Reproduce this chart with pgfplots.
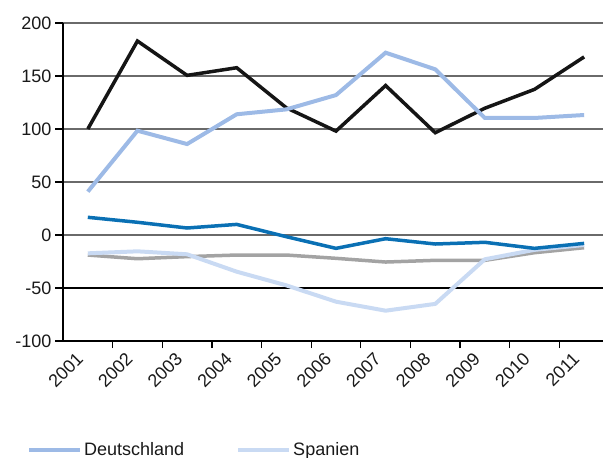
\documentclass[border=0pt]{standalone}
\usepackage{pgfplots}
\pgfplotsset{compat=1.18}
\usepackage{fontspec}
\setmainfont{Liberation Sans}
\definecolor{cblack}{HTML}{151515}
\definecolor{cmid}{HTML}{9DBAE6}
\definecolor{clight}{HTML}{C9DAF3}
\definecolor{cdark}{HTML}{0A70B4}
\definecolor{cgray}{HTML}{A3A3A3}
\definecolor{cgrid}{HTML}{6A6A6A}
\begin{document}
\begin{tikzpicture}
\path[use as bounding box] (-63pt,-117pt) rectangle (540pt,341pt);
\begin{scope}
\clip (-63pt,-117pt) rectangle (540pt,341pt);
\begin{axis}[
  at={(0pt,0pt)}, anchor=south west,
  scale only axis, width=540pt, height=318pt,
  xmin=-0.5, xmax=10.38, ymin=-100, ymax=200,
  axis x line*=bottom, axis y line*=left,
  axis line style={black, line width=1.3pt},
  xtick={0,...,10},
  xticklabels={2001,2002,2003,2004,2005,2006,2007,2008,2009,2010,2011},
  minor xtick={0.5,1.5,...,9.5},
  major x tick style={draw=none},
  minor x tick style={black, line width=1.3pt},
  minor tick length=7pt,
  ytick={-100,0,50,100,150,200},
  extra y ticks={-50},
  extra y tick style={major grid style={black, line width=1.2pt}},
  y tick style={black, line width=1.3pt},
  major tick length=8pt,
  tick align=outside,
  xtick pos=bottom, ytick pos=left,
  ymajorgrids,
  major grid style={cgrid, line width=1.5pt},
  tick label style={font=\fontsize{18}{21}\selectfont, text=black!90},
  xticklabel style={xshift=-5.5pt, yshift=-4.5pt, rotate=45, anchor=east},
  /pgf/number format/assume math mode=true,
  legend columns=2,
  legend style={at={(axis description cs:-0.0667,-0.342)}, anchor=west, draw=none, fill=none, inner sep=0pt,
    font=\fontsize{18}{21}\selectfont, text=black!90,
    /tikz/every even column/.append style={column sep=50pt}},
  legend image code/.code={\draw[#1] (0pt,0pt) -- (51pt,0pt);},
  clip=false,
]
\addlegendimage{cmid, line width=4pt}
\addlegendentry{Deutschland}
\addlegendimage{clight, line width=4pt}
\addlegendentry{Spanien}
\addplot[cgray, line width=3.5pt, forget plot] coordinates {(0,-18.9) (1,-22.4) (2,-20.4) (3,-18.9) (4,-18.9) (5,-22) (6,-25.5) (7,-23.9) (8,-23.9) (9,-16.7) (10,-12)};
\addplot[clight, line width=4pt, forget plot] coordinates {(0,-17.3) (1,-15.4) (2,-18.2) (3,-34.6) (4,-47.5) (5,-62.9) (6,-71.4) (7,-65) (8,-22.9) (9,-14) (10,-9.4)};
\addplot[cdark, line width=3.5pt, forget plot] coordinates {(0,16.7) (1,12) (2,6.6) (3,10) (4,-1.6) (5,-12.6) (6,-3.5) (7,-8.5) (8,-6.9) (9,-12.6) (10,-7.9)};
\addplot[cblack, line width=3.5pt, forget plot] coordinates {(0,100) (1,183) (2,150.6) (3,157.8) (4,120) (5,98) (6,141) (7,96.5) (8,119.6) (9,137.4) (10,168)};
\addplot[cmid, line width=4pt, forget plot] coordinates {(0,40.9) (1,98.4) (2,85.8) (3,113.9) (4,118.5) (5,132) (6,172) (7,156.3) (8,110.4) (9,110.4) (10,113.2)};
\end{axis}
\end{scope}
\end{tikzpicture}
\end{document}
